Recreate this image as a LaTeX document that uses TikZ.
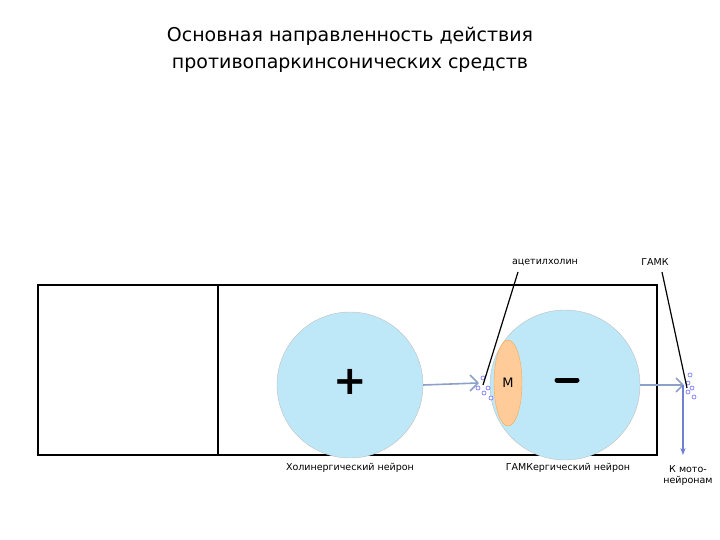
\documentclass[tikz,border=0pt]{standalone}
\usepackage{fontspec}
\setmainfont{DejaVu Sans}
\usetikzlibrary{shapes.geometric,arrows.meta}
\definecolor{linkc}{RGB}{140,160,200}
\definecolor{cellc}{RGB}{190,232,248}
\begin{document}
\begin{tikzpicture}[x=1pt,y=-1pt,
 cell/.style={circle,draw=gray!50,fill=cellc,minimum size=146pt,inner sep=0},
 lbl/.style={font=\fontsize{9.5}{10}\selectfont,inner sep=1pt},
 link/.style={draw=linkc,line width=1.6pt},
 ves/.style={circle,draw=blue!60,fill=white,inner sep=0,minimum size=4pt,line width=0.6pt}]
\useasboundingbox (0,0) rectangle (720,540);
\node[align=center,font=\fontsize{19}{27}\selectfont] (t) at (350,50) {Основная направленность действия\\противопаркинсонических средств};
\draw[line width=1.4pt] (38,285) rectangle (657,455);
\draw[line width=1.4pt] (218,285) -- (218,455);
\node[cell] (c1) at (350,385) {};
\node[cell,minimum size=150pt] (c2) at (565,385) {};
\node[ellipse,draw=orange!70,fill=orange!40,minimum width=28pt,minimum height=86pt,inner sep=0] (m) at (508,383) {};
\node[font=\fontsize{13}{13}\selectfont] (mm) at (508,383) {М};
\node[font=\fontsize{40}{40}\bfseries] (plus) at (350,382) {+};
\draw[line width=5pt,line cap=round] (557,380) -- (577,380);
\coordinate (s1) at (478,383);
\coordinate (s2) at (683,385);
\draw[link] (c1.east) -- (s1);
\draw[link] (s1) -- ++(-8,-8) (s1) -- ++(-8,8);
\draw[link] (c2.east) -- (s2);
\draw[link] (s2) -- ++(-7,-7) (s2) -- ++(-7,7);
\draw[-{Stealth[length=7pt]},draw=linkc!80!blue,line width=1.2pt] (s2) -- (683,455) coordinate (e);
\foreach \p in {(483,378),(488,388),(484,393),(491,398),(478,388)} \node[ves] at \p {};
\foreach \p in {(690,375),(688,383),(692,388),(688,392),(694,397)} \node[ves] at \p {};
\node[lbl] (a) at (545,262) {ацетилхолин};
\node[lbl] (g) at (655,262) {ГАМК};
\draw[line width=1.2pt] (518,272) -- (483,385);
\draw[line width=1.2pt] (662,272) -- (687,388);
\node[lbl] (n1) at (350,468) {Холинергический нейрон};
\node[lbl] (n2) at (568,468) {ГАМКергический нейрон};
\node[lbl,align=center,font=\fontsize{9.5}{11}\selectfont] (n3) at (688,476) {К мото-\\нейронам};
\end{tikzpicture}
\end{document}
